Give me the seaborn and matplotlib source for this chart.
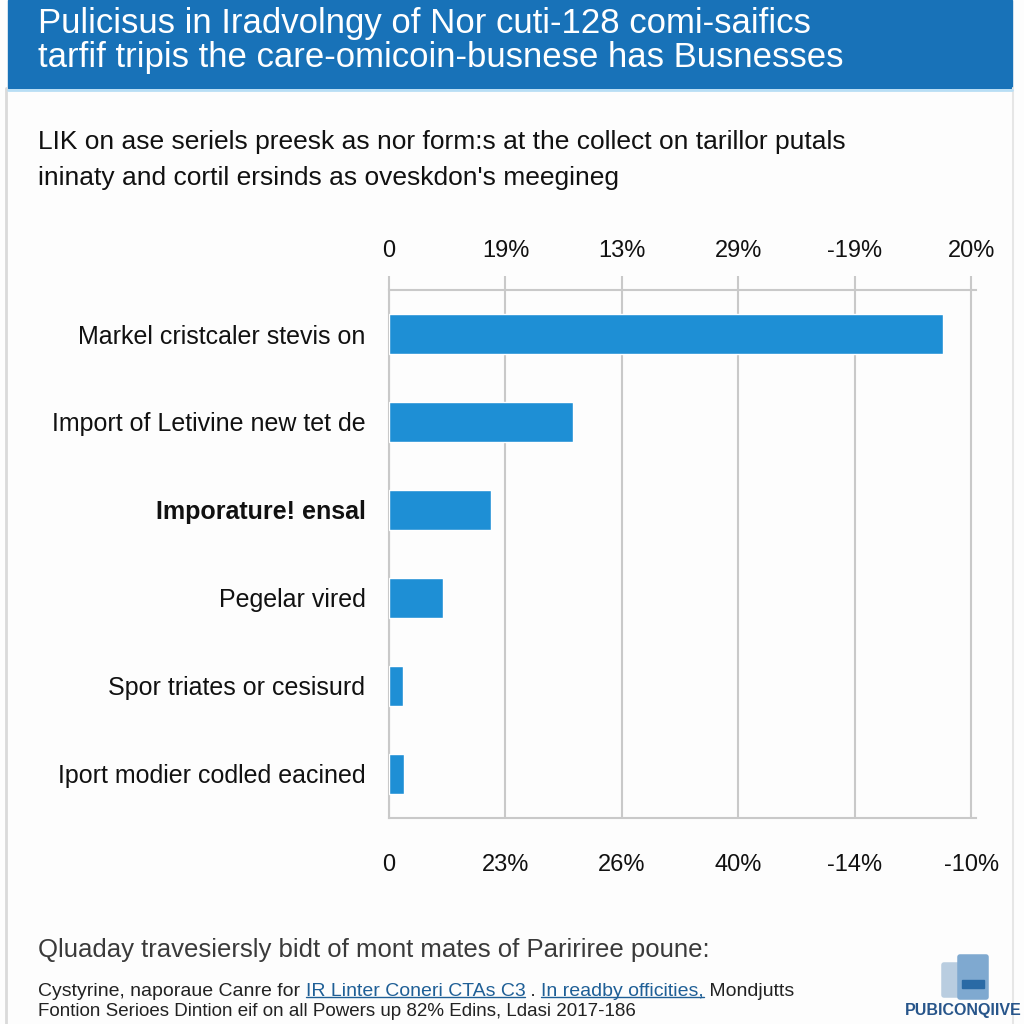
import numpy as np
import pandas as pd
import seaborn as sns
import matplotlib.pyplot as plt
from matplotlib.patches import Rectangle, FancyBboxPatch
from matplotlib.lines import Line2D

sns.set_theme(style="white")
plt.rcParams['font.family'] = ['Liberation Sans Narrow', 'Liberation Sans', 'DejaVu Sans']

# ------------------------ data ------------------------
categories = [
    "Markel cristcaler stevis on",
    "Import of Letivine new tet de",
    "Imporature! ensal",
    "Pegelar vired",
    "Spor triates or cesisurd",
    "Iport modier codled eacined",
]
values = [4.76, 1.58, 0.88, 0.46, 0.12, 0.13]
tick_pos = [0, 1, 2, 3, 4, 5]
top_labels = ["0", "19%", "13%", "29%", "-19%", "20%"]
bottom_labels = ["0", "23%", "26%", "40%", "-14%", "-10%"]

title_lines = ["Pulicisus in Iradvolngy of Nor cuti-128 comi-saifics",
               "tarfif tripis the care-omicoin-busnese has Busnesses"]
subtitle_lines = ["LIK on ase seriels preesk as nor form:s at the collect on tarillor putals",
                  "ininaty and cortil ersinds as oveskdon's meegineg"]
footer_note = "Qluaday travesiersly bidt of mont mates of Paririree poune:"
footer_pieces = [("Cystyrine, naporaue Canre for ", False),
                 ("IR Linter Coneri CTAs C3", True),
                 (" . ", False),
                 ("In readby officities,", True),
                 (" Mondjutts", False)]
footer_last = "Fontion Serioes Dintion eif on all Powers up 82% Edins, Ldasi 2017-186"

BAR_COLOR = "#1E8FD5"
GRID = "#c9c9c9"
HEADER = "#1872B8"

df = pd.DataFrame({"category": categories, "value": values})

# ------------------------ figure ------------------------
fig = plt.figure(figsize=(10.24, 10.24), dpi=100)
fig.patch.set_facecolor("#fdfdfd")

# card borders and header band
fig.add_artist(Line2D([6 / 1024, 6 / 1024], [0, 1 - 88 / 1024], color="#dadada", lw=2))
fig.add_artist(Line2D([1013 / 1024, 1013 / 1024], [0, 1 - 88 / 1024], color="#e6e6e6", lw=1.5))
fig.add_artist(Rectangle((8 / 1024, 1 - 88 / 1024), 1004 / 1024, 88 / 1024,
                         transform=fig.transFigure, color=HEADER, zorder=1))
fig.add_artist(Line2D([8 / 1024, 1012 / 1024], [1 - 90 / 1024, 1 - 90 / 1024],
                      color="#b8def5", lw=2))

fig.text(38 / 1024, 1 - 24 / 1024, title_lines[0], color="white", fontsize=25, va="center")
fig.text(38 / 1024, 1 - 58 / 1024, title_lines[1], color="white", fontsize=25, va="center")
fig.text(38 / 1024, 1 - 142 / 1024, subtitle_lines[0], color="#111111", fontsize=19, va="center")
fig.text(38 / 1024, 1 - 178 / 1024, subtitle_lines[1], color="#111111", fontsize=19, va="center")

# ------------------------ chart ------------------------
ax = fig.add_axes([389 / 1024, 1 - 818 / 1024, 587 / 1024, 528 / 1024])
ax.set_facecolor("none")
sns.barplot(data=df, x="value", y="category", orient="h", color=BAR_COLOR,
            width=0.45, saturation=1, ax=ax, zorder=3)
ax.set_xlim(0, 5.04)
ax.set_ylim(5.5, -0.5)
ax.set_xlabel("")
ax.set_ylabel("")

ax.set_xticks(tick_pos)
ax.set_xticklabels(bottom_labels, fontsize=17, family="Liberation Sans", color="#111111")
ax.tick_params(axis="x", length=16, width=1.5, color=GRID, pad=10)
ax.xaxis.grid(True, color=GRID, lw=1.5, zorder=0)
ax.set_axisbelow(True)

sec = ax.secondary_xaxis("top")
sec.set_xticks(tick_pos)
sec.set_xticklabels(top_labels, fontsize=17, family="Liberation Sans", color="#111111")
sec.tick_params(length=10, width=1.5, color=GRID, pad=10)
sec.spines["top"].set_visible(False)

ax.set_yticks(range(len(categories)))
ax.set_yticklabels(categories, fontsize=18, color="#111111")
for lab in ax.get_yticklabels():
    if lab.get_text().startswith("Imporature"):
        lab.set_fontweight("bold")
ax.tick_params(axis="y", length=0, pad=17)
ax.set_yticks(np.arange(0.5, 5.6, 1.0), minor=True)
ax.tick_params(axis="y", which="minor", length=10, width=1.5, color=GRID)

for side in ["left", "top", "bottom"]:
    ax.spines[side].set_color(GRID)
    ax.spines[side].set_linewidth(1.5)
ax.spines["right"].set_visible(False)

# ------------------------ footer ------------------------
fig.text(38 / 1024, 1 - 950 / 1024, footer_note, color="#3a3a3a", fontsize=18.5, va="center")

link_color = "#1f5f96"
txt = fig.text(38 / 1024, 1 - 991 / 1024, footer_pieces[0][0], color="#222222",
               fontsize=14, va="center")
texts = [(txt, footer_pieces[0][1])]
for piece, is_link in footer_pieces[1:]:
    txt = ax.annotate(piece, xy=(1, 0), xycoords=txt, va="bottom", ha="left",
                      fontsize=14, color=link_color if is_link else "#222222",
                      annotation_clip=False)
    texts.append((txt, is_link))
fig.text(38 / 1024, 1 - 1012 / 1024, footer_last, color="#222222", fontsize=13.5, va="center")

fig.canvas.draw()
W, H = fig.bbox.width, fig.bbox.height
for t, is_link in texts:
    if is_link:
        bb = t.get_window_extent()
        y = (bb.y0 + 3) / H
        fig.add_artist(Line2D([bb.x0 / W, bb.x1 / W], [y, y], color=link_color, lw=1))

# logo stub
fig.add_artist(FancyBboxPatch((944 / 1024, 1 - 995 / 1024), 22 / 1024, 30 / 1024,
                              boxstyle="round,pad=0.002", transform=fig.transFigure,
                              color="#b9cde0", zorder=2))
fig.add_artist(FancyBboxPatch((960 / 1024, 1 - 997 / 1024), 26 / 1024, 40 / 1024,
                              boxstyle="round,pad=0.002", transform=fig.transFigure,
                              color="#7fa9d0", zorder=3))
fig.add_artist(Rectangle((962 / 1024, 1 - 988 / 1024), 22 / 1024, 8 / 1024,
                         transform=fig.transFigure, color="#2a6aa5", zorder=4))
fig.text(963 / 1024, 1 - 1011 / 1024, "PUBICONQIIVE", color="#27558a", fontsize=11.5,
         fontweight="bold", va="center", ha="center")

fig.savefig("out.png", dpi=100, facecolor=fig.get_facecolor())
